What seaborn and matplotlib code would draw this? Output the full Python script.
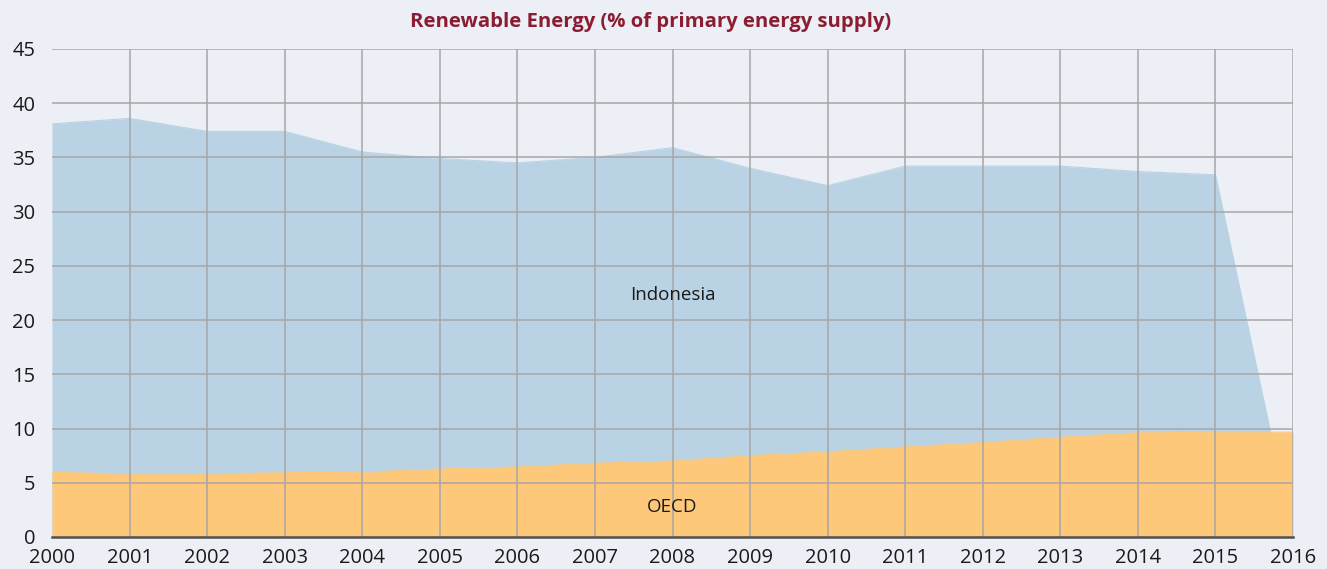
import matplotlib
matplotlib.use("Agg")
import matplotlib.pyplot as plt
import seaborn as sns
import pandas as pd

years = list(range(2000, 2017))
indonesia = [38.1, 38.6, 37.4, 37.4, 35.5, 34.9, 34.5, 35.0, 35.9, 34.0, 32.4,
             34.2, 34.2, 34.2, 33.7, 33.4, 0.0]
oecd = [5.97, 5.8, 5.8, 5.93, 5.97, 6.27, 6.45, 6.8, 7.0, 7.5, 7.85,
        8.3, 8.7, 9.2, 9.6, 9.66, 9.66]
yticks = list(range(0, 50, 5))

BG = "#eceff6"
BLUE = "#b9d3e4"
ORANGE = "#fdc87a"
GRID = "#a6a6a6"
TITLE = "#8b1d33"

sns.set_theme(style="white")
plt.rcParams["font.family"] = ["Open Sans", "DejaVu Sans"]

df = pd.DataFrame({"year": years, "Indonesia": indonesia, "OECD": oecd})

fig = plt.figure(figsize=(13.27, 5.69), dpi=100, facecolor=BG)
ax = fig.add_axes([52 / 1327, 32 / 569, (1293 - 52) / 1327, (537 - 49) / 569])
ax.set_facecolor(BG)

ax.fill_between(df["year"], 0, df["Indonesia"], color=BLUE, linewidth=0, zorder=1)
ax.fill_between(df["year"], 0, df["OECD"], color=ORANGE, linewidth=0, zorder=2)
sns.lineplot(data=df, x="year", y="Indonesia", ax=ax, color=BLUE, linewidth=0.8, zorder=1)
sns.lineplot(data=df, x="year", y="OECD", ax=ax, color=ORANGE, linewidth=0.8, zorder=2)

ax.set_xlim(2000, 2016)
ax.set_ylim(0, 45)
ax.set_xticks(years)
ax.set_yticks(yticks)
ax.set_xticklabels([str(y) for y in years])
ax.set_xlabel("")
ax.set_ylabel("")

ax.set_axisbelow(False)
ax.grid(True, color=GRID, linewidth=1.1, zorder=3)
ax.xaxis.get_gridlines()[0].set_visible(False)
ax.yaxis.get_gridlines()[0].set_visible(False)

for s in ["top", "right", "left"]:
    ax.spines[s].set_visible(False)
ax.spines["bottom"].set_color("#505050")
ax.spines["bottom"].set_linewidth(1.8)
ax.spines["bottom"].set_zorder(4)

ax.tick_params(axis="both", length=0, labelsize=14.5, colors="#1a1a1a")
ax.tick_params(axis="y", pad=12)
ax.tick_params(axis="x", pad=8)

ax.text(2008.0, 22.3, "Indonesia", ha="center", va="center", fontsize=13.5, color="#1a1a1a", zorder=5)
ax.text(2008.0, 2.8, "OECD", ha="center", va="center", fontsize=13.5, color="#1a1a1a", zorder=5)

fig.text(651 / 1327, 1 - 22 / 569, "Renewable Energy (% of primary energy supply)",
         ha="center", va="center", fontsize=14.6, fontweight="bold", color=TITLE)

fig.savefig("out.png", dpi=100, facecolor=BG)
